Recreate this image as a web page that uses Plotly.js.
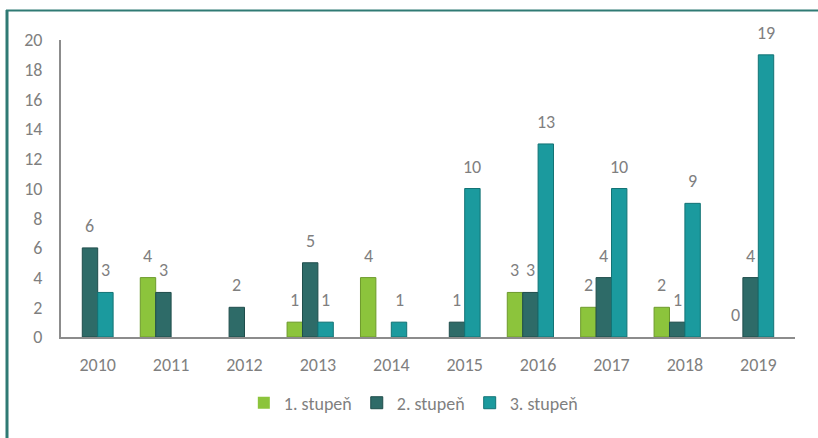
<!DOCTYPE html>
<html>
<head>
<meta charset="utf-8">
<script src="https://cdn.plot.ly/plotly-3.0.1.min.js"></script>
<style>
html,body{margin:0;padding:0;background:#fff;}
#chart{width:818px;height:438px;}
</style>
</head>
<body>
<div id="chart"></div>
<script>
// ---- data ----
var years = ['2010','2011','2012','2013','2014','2015','2016','2017','2018','2019'];
var seriesNames = ['1. stupeň','2. stupeň','3. stupeň'];
var stupen1 = [null, 4, null, 1, 4, null, 3, 2, 2, 0];
var stupen2 = [6, 3, 2, 5, null, 1, 3, 4, 1, 4];
var stupen3 = [3, null, null, 1, 1, 10, 13, 10, 9, 19];
var yTicks = [0, 2, 4, 6, 8, 10, 12, 14, 16, 18, 20];

// ---- styling ----
var colors = ['#8cc43c', '#2e6b68', '#1b9a9e'];
var lineColors = ['#6d9a2c', '#1f4d4b', '#137375'];
var FONT = 'Calibri, Carlito, Lato, sans-serif';
var FS = 18;
var GRAY = '#7f7f7f';
var barW = 0.21;
var offsets = [-0.42, -0.21, 0];
var margin = {l: 61, r: 23, t: 40, b: 101};
var plotW = 818 - margin.l - margin.r;
var pxPerCat = plotW / years.length;

var allSeries = [stupen1, stupen2, stupen3];
var traces = allSeries.map(function (vals, i) {
  return {
    type: 'bar',
    name: seriesNames[i],
    x: years,
    y: vals,
    width: barW,
    offset: offsets[i],
    marker: {
      color: colors[i],
      line: {color: lineColors[i], width: vals.map(function (v) { return v ? 1 : 0; })}
    },
    hoverinfo: 'x+y+name'
  };
});

var annotations = [];
allSeries.forEach(function (vals, i) {
  var shift = (offsets[i] + barW / 2) * pxPerCat;
  vals.forEach(function (v, j) {
    if (v === null) return;
    annotations.push({
      x: j, y: v, xref: 'x', yref: 'y',
      text: String(v), showarrow: false,
      xshift: shift, yshift: 22, yanchor: 'middle', xanchor: 'center',
      font: {family: FONT, size: FS, color: GRAY}
    });
  });
});

var layout = {
  width: 818, height: 438,
  margin: margin,
  paper_bgcolor: '#ffffff', plot_bgcolor: '#ffffff',
  barmode: 'group',
  showlegend: true,
  font: {family: FONT, size: FS, color: GRAY},
  xaxis: {
    type: 'category',
    categoryorder: 'array', categoryarray: years,
    range: [-0.5, years.length - 0.5],
    showgrid: false, zeroline: false,
    showline: true, linecolor: '#8c8c8c', linewidth: 2,
    ticks: '', ticklabelstandoff: 10,
    tickfont: {family: FONT, size: FS, color: GRAY}
  },
  yaxis: {
    range: [0, 20], tickvals: yTicks,
    showgrid: false, zeroline: false,
    showline: true, linecolor: '#8c8c8c', linewidth: 2,
    ticks: '', ticklabelstandoff: 13,
    tickfont: {family: FONT, size: FS, color: GRAY}
  },
  legend: {
    orientation: 'h', x: 0.48, xanchor: 'center', y: -0.16, yanchor: 'top',
    font: {family: FONT, size: FS, color: GRAY},
    itemwidth: 30, traceorder: 'normal'
  },
  annotations: annotations,
  shapes: [
    {type: 'line', xref: 'paper', yref: 'paper',
     x0: (7 - margin.l) / plotW, x1: (7 - margin.l) / plotW,
     y0: (337 - 10) / 297, y1: -0.5,
     line: {color: '#2f7a74', width: 3}},
    {type: 'line', xref: 'paper', yref: 'paper',
     x0: (6 - margin.l) / plotW, x1: (818 - margin.l) / plotW,
     y0: (337 - 10.5) / 297, y1: (337 - 10.5) / 297,
     line: {color: '#2f7a74', width: 2}}
  ]
};

Plotly.newPlot('chart', traces, layout, {displayModeBar: false, staticPlot: true});
</script>
</body>
</html>
